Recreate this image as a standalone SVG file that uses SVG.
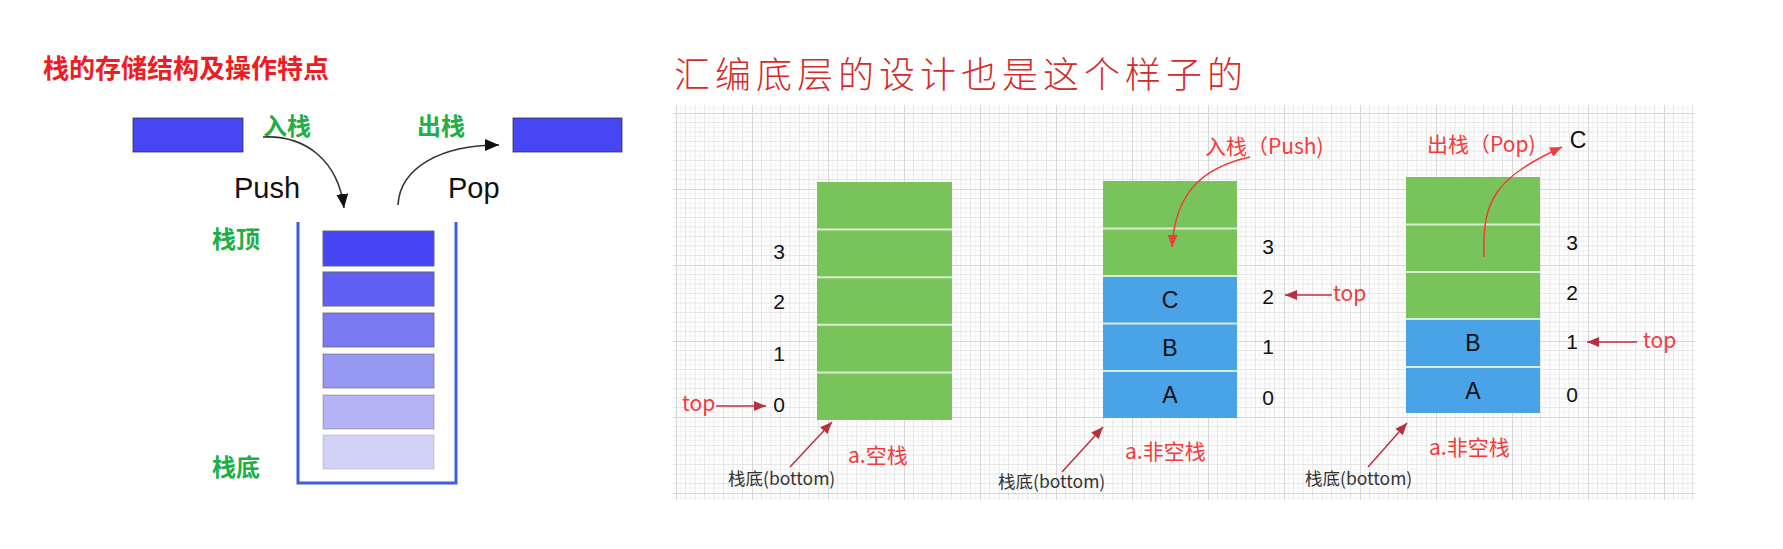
<svg xmlns="http://www.w3.org/2000/svg" width="1783" height="549" viewBox="0 0 1783 549">
<style>
.cjk{font-family:"Noto Sans CJK SC","Liberation Sans",sans-serif}
.lat{font-family:"Liberation Sans","Noto Sans CJK SC",sans-serif}
.ttl{font-weight:bold;fill:#ee1c25;font-size:26px}
.grn{font-weight:bold;fill:#21ae48;font-size:24px}
.big{font-size:29px;fill:#111}
.num{font-size:21px;fill:#111;text-anchor:middle}
.let{font-size:23px;fill:#111;text-anchor:middle}
.red{fill:#f23b3b;font-size:21px}
.bot{fill:#333;font-size:17.5px}
.g{fill:#79c35b}
.b{fill:#4aa2e7}
.sep{stroke:#d9eed0;stroke-width:2}
.blk{stroke:#666;stroke-width:1}
.arw{fill:none;stroke:#333;stroke-width:1.6}
.rarw{fill:none;stroke:#f03c3c;stroke-width:1.5}
.darw{fill:none;stroke:#b8303f;stroke-width:1.5}
</style>
<defs>
<pattern id="grid" patternUnits="userSpaceOnUse" x="752" y="113" width="76" height="76">
<rect width="76" height="76" fill="#fff"/>
<path d="M4.75,0V76M14.25,0V76M23.75,0V76M33.25,0V76M42.75,0V76M52.25,0V76M61.75,0V76M71.25,0V76M0,4.75H76M0,14.25H76M0,23.75H76M0,33.25H76M0,42.75H76M0,52.25H76M0,61.75H76M0,71.25H76" stroke="#f3f3f3" stroke-width="1"/>
<path d="M9.5,0V76M19,0V76M28.5,0V76M38,0V76M47.5,0V76M57,0V76M66.5,0V76M0,9.5H76M0,19H76M0,28.5H76M0,38H76M0,47.5H76M0,57H76M0,66.5H76" stroke="#e6e6e6" stroke-width="1"/>
<path d="M0.5,0V76M0,0.5H76" stroke="#d6d6d6" stroke-width="1"/>
</pattern>
<marker id="mk" viewBox="0 0 14 12" refX="14" refY="6" markerWidth="14" markerHeight="12" markerUnits="userSpaceOnUse" orient="auto"><path d="M0,0L14,6L0,12z" fill="#111"/></marker>
<marker id="mr" viewBox="0 0 12 10" refX="12" refY="5" markerWidth="12" markerHeight="10" markerUnits="userSpaceOnUse" orient="auto"><path d="M0,0L12,5L0,10z" fill="#f03c3c"/></marker>
<marker id="md" viewBox="0 0 12 10" refX="12" refY="5" markerWidth="12" markerHeight="10" markerUnits="userSpaceOnUse" orient="auto"><path d="M0,0L12,5L0,10z" fill="#b8303f"/></marker>
</defs>
<rect width="1783" height="549" fill="#fff"/>

<g id="left-title"><text class="cjk ttl" x="43" y="78">栈的存储结构及操作特点</text></g>

<g id="in-block"><rect x="133" y="118" width="110" height="34" fill="#4646f2" stroke="#333" stroke-width="0.8"/></g>
<g id="out-block"><rect x="513" y="118" width="109" height="34" fill="#4646f2" stroke="#333" stroke-width="0.8"/></g>
<g id="label-push-cn"><text class="cjk grn" x="263" y="135">入栈</text></g>
<g id="label-pop-cn"><text class="cjk grn" x="417" y="135">出栈</text></g>
<g id="label-push"><text class="lat big" x="234" y="198">Push</text></g>
<g id="label-pop"><text class="lat big" x="448" y="198">Pop</text></g>

<g id="container">
<path d="M298,222V483H456V222" fill="none" stroke="#3e5fd9" stroke-width="3"/>
<rect class="blk" x="323" y="231" width="111" height="35" fill="#4545f3"/>
<rect class="blk" x="323" y="272" width="111" height="34" fill="#5f5ff3"/>
<rect class="blk" x="323" y="313" width="111" height="34" fill="#7a7af2" stroke-opacity="0.8"/>
<rect class="blk" x="323" y="354" width="111" height="34" fill="#9797f4" stroke-opacity="0.6"/>
<rect class="blk" x="323" y="395" width="111" height="34" fill="#b3b3f6" stroke-opacity="0.45"/>
<rect class="blk" x="323" y="435" width="111" height="34" fill="#d2d2f8" stroke-opacity="0.25"/>
</g>
<g id="label-top-cn"><text class="cjk grn" x="212" y="248">栈顶</text></g>
<g id="label-bottom-cn"><text class="cjk grn" x="212" y="476">栈底</text></g>

<g id="right-title"><text class="cjk" x="674" y="88" font-size="36" font-weight="300" letter-spacing="5" fill="#d42a2a">汇编底层的设计也是这个样子的</text></g>

<g id="grid-bg"><rect x="673" y="105" width="1022" height="395" fill="url(#grid)"/></g>

<g id="stack-empty">
<rect class="g" x="817" y="182" width="135" height="238"/>
<path class="sep" d="M817,229.6H952M817,277.2H952M817,324.8H952M817,372.4H952"/>
<text class="lat num" x="779" y="259">3</text>
<text class="lat num" x="779" y="309">2</text>
<text class="lat num" x="779" y="361">1</text>
<text class="lat num" x="779" y="412">0</text>
<text class="cjk red" x="682" y="411">top</text>
<text class="cjk red" x="848" y="463">a.空栈</text>
<text class="cjk bot" x="728" y="485">栈底(bottom)</text>
</g>

<g id="stack-push">
<rect class="g" x="1103" y="181" width="134" height="95"/>
<rect class="b" x="1103" y="276" width="134" height="142"/>
<path class="sep" d="M1103,228.5H1237M1103,276H1237M1103,323.5H1237M1103,371H1237"/>
<text class="lat let" x="1170" y="308">C</text>
<text class="lat let" x="1170" y="356">B</text>
<text class="lat let" x="1170" y="403">A</text>
<text class="lat num" x="1268" y="254">3</text>
<text class="lat num" x="1268" y="304">2</text>
<text class="lat num" x="1268" y="354">1</text>
<text class="lat num" x="1268" y="405">0</text>
<text class="cjk red" x="1333" y="301">top</text>
<text class="cjk red" x="1205" y="154">入栈（Push)</text>
<text class="cjk red" x="1125" y="459">a.非空栈</text>
<text class="cjk bot" x="998" y="488">栈底(bottom)</text>
</g>

<g id="stack-pop">
<rect class="g" x="1406" y="177" width="134" height="142"/>
<rect class="b" x="1406" y="319" width="134" height="94"/>
<path class="sep" d="M1406,224.5H1540M1406,272H1540M1406,319H1540M1406,367H1540"/>
<text class="lat let" x="1473" y="351">B</text>
<text class="lat let" x="1473" y="399">A</text>
<text class="lat num" x="1572" y="250">3</text>
<text class="lat num" x="1572" y="300">2</text>
<text class="lat num" x="1572" y="349">1</text>
<text class="lat num" x="1572" y="402">0</text>
<text class="cjk red" x="1643" y="348">top</text>
<text class="cjk red" x="1427" y="152">出栈（Pop)</text>
<text class="lat let" x="1578" y="148">C</text>
<text class="cjk red" x="1429" y="455">a.非空栈</text>
<text class="cjk bot" x="1305" y="485">栈底(bottom)</text>
</g>

<g id="connectors">
<path class="arw" d="M263,137C305,135 338,160 344,208" marker-end="url(#mk)"/>
<path class="arw" d="M398,205C400,168 440,145 499,145" marker-end="url(#mk)"/>
<path class="darw" d="M716,406H766" marker-end="url(#md)"/>
<path class="darw" d="M790,467L832,422" marker-end="url(#md)"/>
<path class="darw" d="M1332,295H1285" marker-end="url(#md)"/>
<path class="rarw" d="M1250,157C1200,168 1175,195 1172,247" marker-end="url(#mr)"/>
<path class="darw" d="M1062,472L1103,427" marker-end="url(#md)"/>
<path class="darw" d="M1637,342H1587" marker-end="url(#md)"/>
<path class="rarw" d="M1484,257C1482,200 1495,178 1562,147" marker-end="url(#mr)"/>
<path class="darw" d="M1368,467L1407,423" marker-end="url(#md)"/>
</g>
</svg>
